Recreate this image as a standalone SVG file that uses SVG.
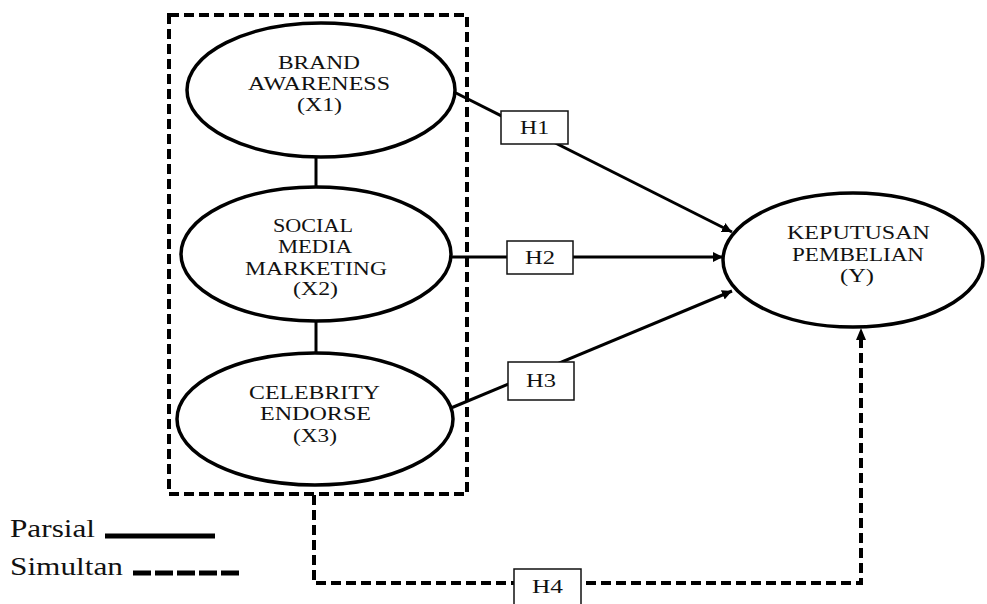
<svg xmlns="http://www.w3.org/2000/svg" width="987" height="604" viewBox="0 0 987 604">
<style>
.node{fill:#fff;stroke:#000;stroke-width:3.5}
.lbl{font-family:"Liberation Serif","Times New Roman",serif;font-size:18px;fill:#111;text-anchor:middle}
.leg{font-family:"Liberation Serif","Times New Roman",serif;font-size:25px;fill:#111}
.solid{fill:none;stroke:#000;stroke-width:3}
.dash{fill:none;stroke:#000;stroke-width:4;stroke-dasharray:10,5}
.hbox{fill:#fff;stroke:#111;stroke-width:1.5}
</style>
<defs>
<marker id="arr" viewBox="0 0 10 10" refX="10" refY="5" markerWidth="10" markerHeight="10" markerUnits="userSpaceOnUse" orient="auto">
<path d="M0,0 L10,5 L0,10 z" fill="#000"/>
</marker>
</defs>
<rect id="group-box" x="169" y="15" width="298" height="479" class="dash"/>
<g id="connectors">
<line x1="316" y1="157" x2="316" y2="187" class="solid"/>
<line x1="316" y1="321" x2="316" y2="353" class="solid"/>
<line x1="454" y1="92" x2="732" y2="232" class="solid" marker-end="url(#arr)"/>
<line x1="450" y1="257" x2="723" y2="257" class="solid" marker-end="url(#arr)"/>
<line x1="451" y1="408" x2="732" y2="291" class="solid" marker-end="url(#arr)"/>
<path d="M314,495 V583 H861 V340" class="dash"/>
<path d="M856,340 L861,328 L866,340 z" fill="#000"/>
</g>
<g id="x1">
<ellipse cx="321" cy="90" rx="134" ry="67" class="node"/>
<text class="lbl" x="319" y="69" textLength="82" lengthAdjust="spacingAndGlyphs">BRAND</text>
<text class="lbl" x="319" y="90" textLength="142" lengthAdjust="spacingAndGlyphs">AWARENESS</text>
<text class="lbl" x="319.5" y="111" textLength="45" lengthAdjust="spacingAndGlyphs">(X1)</text>
</g>
<g id="x2">
<ellipse cx="316" cy="254" rx="135" ry="67" class="node"/>
<text class="lbl" x="313" y="232" textLength="80" lengthAdjust="spacingAndGlyphs">SOCIAL</text>
<text class="lbl" x="315" y="253" textLength="74" lengthAdjust="spacingAndGlyphs">MEDIA</text>
<text class="lbl" x="316" y="275" textLength="142" lengthAdjust="spacingAndGlyphs">MARKETING</text>
<text class="lbl" x="315.5" y="295" textLength="45" lengthAdjust="spacingAndGlyphs">(X2)</text>
</g>
<g id="x3">
<ellipse cx="315" cy="419" rx="138" ry="66" class="node"/>
<text class="lbl" x="314.5" y="399" textLength="131" lengthAdjust="spacingAndGlyphs">CELEBRITY</text>
<text class="lbl" x="315.5" y="420" textLength="111" lengthAdjust="spacingAndGlyphs">ENDORSE</text>
<text class="lbl" x="315" y="442" textLength="44" lengthAdjust="spacingAndGlyphs">(X3)</text>
</g>
<g id="y">
<ellipse cx="853" cy="260" rx="130" ry="67" class="node"/>
<text class="lbl" x="858.5" y="239" textLength="143" lengthAdjust="spacingAndGlyphs">KEPUTUSAN</text>
<text class="lbl" x="858" y="261" textLength="132" lengthAdjust="spacingAndGlyphs">PEMBELIAN</text>
<text class="lbl" x="857" y="282" textLength="34" lengthAdjust="spacingAndGlyphs">(Y)</text>
</g>
<g id="h1">
<rect x="501" y="111" width="67" height="33" class="hbox"/>
<text class="lbl" x="534.5" y="134" textLength="29" lengthAdjust="spacingAndGlyphs">H1</text>
</g>
<g id="h2">
<rect x="507" y="241" width="66" height="33" class="hbox"/>
<text class="lbl" x="540" y="264" textLength="30" lengthAdjust="spacingAndGlyphs">H2</text>
</g>
<g id="h3">
<rect x="508" y="362" width="66" height="38" class="hbox"/>
<text class="lbl" x="541" y="387" textLength="30" lengthAdjust="spacingAndGlyphs">H3</text>
</g>
<g id="h4">
<rect x="514" y="569" width="67" height="40" class="hbox"/>
<text class="lbl" x="547.5" y="593" textLength="31" lengthAdjust="spacingAndGlyphs">H4</text>
</g>
<g id="legend">
<text class="leg" x="10" y="537" textLength="85" lengthAdjust="spacingAndGlyphs">Parsial</text>
<line x1="105" y1="536" x2="215" y2="536" stroke="#000" stroke-width="5"/>
<text class="leg" x="10" y="575" textLength="113" lengthAdjust="spacingAndGlyphs">Simultan</text>
<line x1="133" y1="573" x2="242" y2="573" stroke="#000" stroke-width="5" stroke-dasharray="18,4"/>
</g>
</svg>
